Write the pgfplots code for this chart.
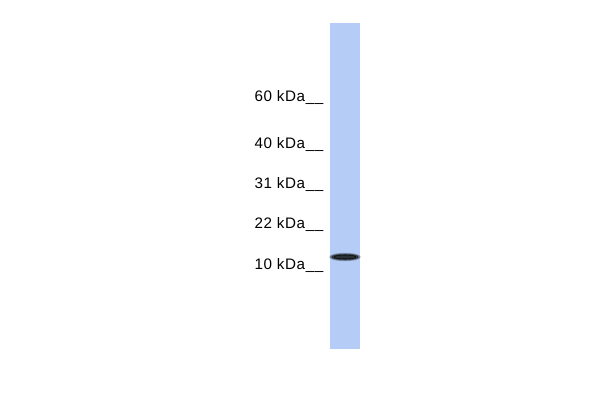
\documentclass[border=0pt]{standalone}
\usepackage{pgfplots}
\pgfplotsset{compat=1.18}
\usepackage{fontspec}
\setmainfont{Liberation Sans}
\newfontfamily\markerfont[LetterSpace=4]{Liberation Sans}

\definecolor{lane}{RGB}{181,204,246}
\definecolor{bandcore}{RGB}{40,48,52}
\newcommand{\mw}[1]{\markerfont\fontsize{15.2}{18}\selectfont #1 kDa\_\_\kern1.5pt}

\begin{document}
\begin{tikzpicture}
\begin{axis}[
    scale only axis,
    width=600pt, height=400pt,
    xmin=0, xmax=600, ymin=0, ymax=400,
    y dir=reverse,
    hide axis,
    clip=false,
]
  % background
  \addplot[fill=white, draw=none] coordinates {(0,0) (600,0) (600,400) (0,400)} -- cycle;
  % lane
  \addplot[fill=lane, draw=none] coordinates {(330,23) (360,23) (360,349) (330,349)} -- cycle;
  % band, soft layers towards a dark core
  \addplot[only marks, mark=*, mark size=4pt,
      mark options={xscale=3.9, fill=bandcore, draw=none, opacity=0.18}]
      coordinates {(345,257)};
  \addplot[only marks, mark=*, mark size=3.3pt,
      mark options={xscale=4.4, fill=bandcore, draw=none, opacity=0.4}]
      coordinates {(345,257)};
  \addplot[only marks, mark=*, mark size=2.6pt,
      mark options={xscale=5.0, fill=bandcore, draw=none, opacity=0.65}]
      coordinates {(345,257)};
  \addplot[only marks, mark=*, mark size=1.9pt,
      mark options={xscale=5.9, fill=bandcore, draw=none}]
      coordinates {(345,257)};
  % markers
  \node[anchor=base east, inner sep=0pt] at (axis cs:325,101.7) {\mw{60}};
  \node[anchor=base east, inner sep=0pt] at (axis cs:325,148.3) {\mw{40}};
  \node[anchor=base east, inner sep=0pt] at (axis cs:325,188.3) {\mw{31}};
  \node[anchor=base east, inner sep=0pt] at (axis cs:325,228.3) {\mw{22}};
  \node[anchor=base east, inner sep=0pt] at (axis cs:325,269.5) {\mw{10}};
\end{axis}
\end{tikzpicture}
\end{document}
